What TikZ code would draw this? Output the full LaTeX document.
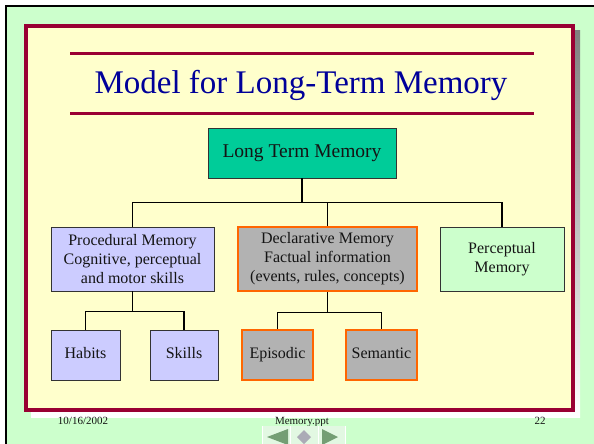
\documentclass[tikz,border=0pt]{standalone}
\usepackage{fontspec}
\setmainfont{Liberation Serif}
\usepackage{tikz}
\usepackage{xcolor}
\usetikzlibrary{calc,positioning}
\definecolor{slidebg}{HTML}{CCFFCC}
\definecolor{panel}{HTML}{FFFFCC}
\definecolor{crimson}{HTML}{990033}
\definecolor{shade}{HTML}{808080}
\definecolor{titleblue}{HTML}{000099}
\definecolor{teal}{HTML}{00CC99}
\definecolor{lavender}{HTML}{CCCCFF}
\definecolor{declgray}{HTML}{B2B2B2}
\definecolor{declline}{HTML}{FF6600}
\definecolor{percgreen}{HTML}{CCFFCC}
\definecolor{boxline}{HTML}{333333}
\definecolor{navbg}{HTML}{E2F8E2}
\definecolor{navarrow}{HTML}{749E74}
\definecolor{navgem}{HTML}{ABABB6}
\definecolor{ink}{HTML}{141414}
\tikzset{
  memblock/.style={draw=boxline, line width=0.8pt, align=center, inner sep=2pt,
                   font=\fontsize{16}{19}\selectfont, text=ink},
  procblock/.style={memblock, fill=lavender},
  declblock/.style={memblock, fill=declgray, draw=declline, line width=2.5pt},
  leaf/.style={minimum height=50pt, text height=11pt, text depth=3.5pt},
  link/.style={draw=black, line width=1.3pt},
  footer/.style={font=\fontsize{11}{13}\selectfont, text=ink, anchor=base}
}

\begin{document}
\begin{tikzpicture}[x=1pt,y=-1pt]
        \useasboundingbox (0,0) rectangle (594,444);
        % slide background and frame
        \fill[white] (0,0) rectangle (594,444);
        \fill[slidebg] (6,6) rectangle (594,444);
        \draw[black,line width=2.5pt] (6,444) -- (6,6) -- (594,6);
        % panel with shadow
        \fill[shade] (31,31) rectangle (580,417);
        \draw[crimson,fill=panel,line width=4pt] (26,26) rectangle (573,410);
        % title between two rules
        \draw[crimson,line width=3pt] (70,54) -- (534,54);
        \draw[crimson,line width=3pt] (70,113) -- (534,113);
        \node[font=\fontsize{33}{40}\selectfont,text=titleblue,anchor=base] (title) at (301,93)
          {Model for Long-Term Memory};
        % tree nodes
        \node[memblock,fill=teal,minimum width=188pt,minimum height=50pt,
              font=\fontsize{19.5}{23}\selectfont] (ltm) at (302,153) {Long Term Memory};
        \node[procblock,minimum width=163pt,minimum height=64pt] (proc) at (132.5,259)
          {Procedural Memory\\Cognitive, perceptual\\and motor skills};
        \node[declblock,minimum width=179pt,minimum height=64pt] (decl) at (327.5,259)
          {Declarative Memory\\Factual information\\(events, rules, concepts)};
        \node[memblock,fill=percgreen,minimum width=124pt,minimum height=64pt] (perc) at (502,259)
          {Perceptual\\Memory};
        \node[procblock,leaf,minimum width=69pt] (habits) at (85.5,355) {Habits};
        \node[procblock,leaf,minimum width=68pt] (skills) at (184,355) {Skills};
        \node[declblock,leaf,minimum width=71pt] (episodic) at (277.5,355) {Episodic};
        \node[declblock,leaf,minimum width=71pt] (semantic) at (381.5,355) {Semantic};
        % elbow connectors
        \coordinate (ltmjoin) at ($(ltm.south)+(0,24)$);
        \draw[link] (ltm.south) -- (ltmjoin);
        \foreach \kid in {proc,decl,perc} {
          \draw[link] (ltmjoin) -| (\kid.north);
        }
        \coordinate (procjoin) at ($(proc.south)+(0,20)$);
        \draw[link] (proc.south) -- (procjoin);
        \foreach \kid in {habits,skills} {
          \draw[link] (procjoin) -| (\kid.north);
        }
        \coordinate (decljoin) at ($(decl.south)+(0,20)$);
        \draw[link] (decl.south) -- (decljoin);
        \foreach \kid in {episodic,semantic} {
          \draw[link] (decljoin) -| (\kid.north);
        }
        % footer
        \node[footer] (date) at (83,424) {10/16/2002};
        \node[footer] (file) at (302,424) {Memory.ppt};
        \node[footer] (page) at (540,424) {22};
        % navigation buttons
        \fill[navbg] (262,426) rectangle (345,444);
        \foreach \gx in {262,290,318,345} {
          \draw[white,line width=1pt] (\gx,426) -- (\gx,444);
        }
        \fill[navarrow] (267,437) -- (288,429) -- (288,445) -- cycle;
        \fill[navgem] (304,430) -- (311,437) -- (304,444) -- (297,437) -- cycle;
        \fill[navarrow] (338,437) -- (322,429) -- (322,445) -- cycle;
      \end{tikzpicture}
\end{document}
